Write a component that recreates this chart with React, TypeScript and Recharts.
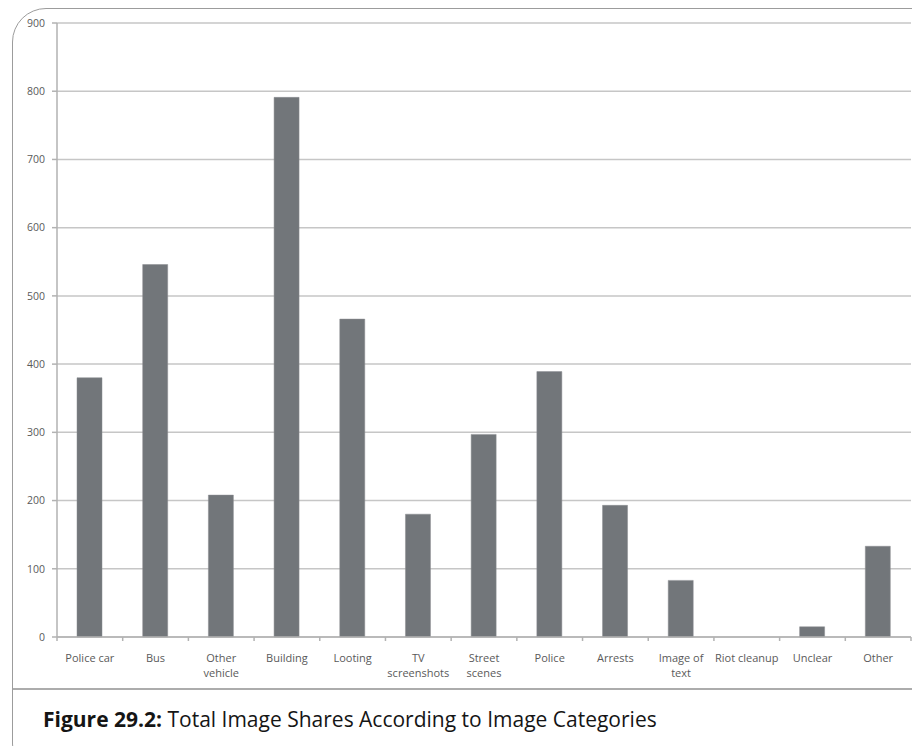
import React from "react";
import { BarChart, Bar, XAxis, YAxis, CartesianGrid } from "recharts";

const CATEGORIES = [
  "Police car",
  "Bus",
  "Other vehicle",
  "Building",
  "Looting",
  "TV screenshots",
  "Street scenes",
  "Police",
  "Arrests",
  "Image of text",
  "Riot cleanup",
  "Unclear",
  "Other",
];

const SHARES = [380, 546, 208, 791, 466, 180, 297, 389, 193, 83, 0, 15, 133];

const TICK_LABELS = [
  ["Police car"],
  ["Bus"],
  ["Other", "vehicle"],
  ["Building"],
  ["Looting"],
  ["TV", "screenshots"],
  ["Street", "scenes"],
  ["Police"],
  ["Arrests"],
  ["Image of", "text"],
  ["Riot cleanup"],
  ["Unclear"],
  ["Other"],
];

const Y_TICKS = [0, 100, 200, 300, 400, 500, 600, 700, 800, 900];

const data = CATEGORIES.map((name, i) => ({ name, shares: SHARES[i] }));

const CHART_W = 912;
const CHART_H = 689;
const MARGIN = { top: 23, right: 1, bottom: 0, left: 0 };
const Y_AXIS_W = 57;
const BAND = (CHART_W - MARGIN.left - MARGIN.right - Y_AXIS_W) / CATEGORIES.length;

const AXIS_GREY = "#b2b2b2";
const LABEL_GREY = "#5a5a5a";
const FONT = "'Open Sans', 'Noto Sans', sans-serif";

function CategoryTick(props: any) {
  const { x, y, payload } = props;
  const idx = CATEGORIES.indexOf(payload.value);
  const lines = TICK_LABELS[idx] || [payload.value];
  const bx = -BAND / 2;
  return (
    <g transform={`translate(${x},${y})`}>
      <line x1={bx} y1={0} x2={bx} y2={4} stroke={AXIS_GREY} strokeWidth={1.5} />
      {idx === CATEGORIES.length - 1 && (
        <line x1={-bx} y1={0} x2={-bx} y2={4} stroke={AXIS_GREY} strokeWidth={1.5} />
      )}
      <text textAnchor="middle" fontSize={11} fill={LABEL_GREY} fontFamily={FONT}>
        {lines.map((l: string, i: number) => (
          <tspan key={i} x={0} y={25 + i * 15}>
            {l}
          </tspan>
        ))}
      </text>
    </g>
  );
}

export default function App() {
  return (
    <div
      style={{
        position: "absolute",
        left: 0,
        top: 0,
        width: 912,
        height: 746,
        overflow: "hidden",
        background: "#fff",
      }}
    >
      <div
        style={{
          position: "absolute",
          left: 12,
          top: 8,
          width: 940,
          height: 770,
          border: "1px solid #9c9c9c",
          borderRadius: 34,
          boxSizing: "border-box",
        }}
      />
      <div
        style={{
          position: "absolute",
          left: 13,
          top: 688,
          width: 900,
          height: 2,
          background: "#acacac",
        }}
      />
      <div style={{ position: "absolute", left: 0, top: 0 }}>
        <BarChart width={CHART_W} height={CHART_H} data={data} margin={MARGIN} barSize={25}>
          <CartesianGrid vertical={false} stroke="#c6c6c6" strokeWidth={1.5} />
          <XAxis
            dataKey="name"
            height={CHART_H - MARGIN.top - 614}
            interval={0}
            tickSize={0}
            tickMargin={0}
            tickLine={false}
            axisLine={{ stroke: AXIS_GREY, strokeWidth: 1.5 }}
            tick={<CategoryTick />}
          />
          <YAxis
            width={Y_AXIS_W}
            domain={[0, 900]}
            ticks={Y_TICKS}
            interval={0}
            tickSize={5}
            tickMargin={7}
            axisLine={{ stroke: AXIS_GREY, strokeWidth: 1.5 }}
            tickLine={{ stroke: AXIS_GREY, strokeWidth: 1.5 }}
            tick={{ fontSize: 10.5, fill: LABEL_GREY, fontFamily: FONT }}
          />
          <Bar dataKey="shares" fill="#72767a" stroke="#8a8d90" strokeWidth={0.5} isAnimationActive={false} />
        </BarChart>
      </div>
      <div
        style={{
          position: "absolute",
          left: 43,
          top: 705,
          fontFamily: FONT,
          fontSize: 21,
          lineHeight: "normal",
          color: "#151515",
          whiteSpace: "nowrap",
        }}
      >
        <span style={{ fontWeight: 700 }}>Figure 29.2:</span> Total Image Shares According to Image
        Categories
      </div>
    </div>
  );
}
